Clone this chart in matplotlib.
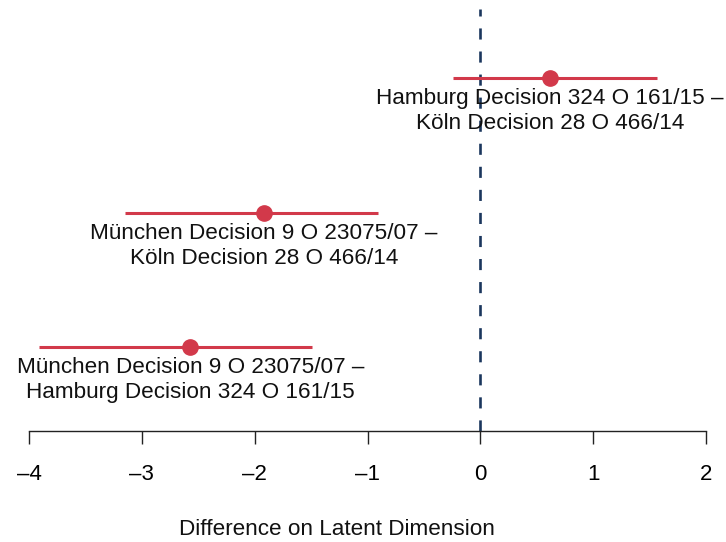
import matplotlib
matplotlib.use("Agg")
import matplotlib.pyplot as plt

# Data
labels = [
    "München Decision 9 O 23075/07 –\nHamburg Decision 324 O 161/15",
    "München Decision 9 O 23075/07 –\nKöln Decision 28 O 466/14",
    "Hamburg Decision 324 O 161/15 –\nKöln Decision 28 O 466/14",
]
estimates = [-2.57, -1.92, 0.62]
lower = [-3.91, -3.15, -0.24]
upper = [-1.49, -0.91, 1.57]
xticks = [-4, -3, -2, -1, 0, 1, 2]
xticklabels = ["\u20134", "\u20133", "\u20132", "\u20131", "0", "1", "2"]

plt.rcParams['font.family'] = ['Liberation Sans', 'DejaVu Sans']
plt.rcParams['lines.scale_dashes'] = False

W, H = 726, 542
fig = plt.figure(figsize=(W / 100, H / 100), dpi=100)
left, right, top, bottom = 29, 706, 9, 431
ax = fig.add_axes([left / W, 1 - bottom / H, (right - left) / W, (bottom - top) / H])
ax.set_xlim(-4, 2)
ax.set_ylim(0.3755, 3.513)

red = "#D2394A"
navy = "#1B365D"

ax.axvline(0, color=navy, lw=1.9, linestyle=(0, (8.0, 8.6)), zorder=1)

ys = [1, 2, 3]
for y, est, lo, hi, lab in zip(ys, estimates, lower, upper, labels):
    ax.plot([lo, hi], [y, y], color=red, lw=2.2, solid_capstyle='butt', zorder=2)
    ax.plot([est], [y], 'o', color=red, markersize=11, zorder=3)
    ax.text(est, y - 0.075, lab, ha='center', va='top', fontsize=16.2,
            linespacing=1.27, color='#111111', zorder=4, clip_on=False)

for s in ['top', 'right', 'left']:
    ax.spines[s].set_visible(False)
ax.spines['bottom'].set_linewidth(1.0)
ax.spines['bottom'].set_color('#222222')
ax.set_yticks([])
ax.set_xticks(xticks)
ax.set_xticklabels(xticklabels, fontsize=16)
ax.tick_params(axis='x', length=9.4, width=1.0, color='#222222', pad=14)

fig.text((337) / W, 1 - 519 / H, "Difference on Latent Dimension", ha='center', va='top',
         fontsize=16.2, color='#111111')

fig.savefig("out.png", dpi=100)
